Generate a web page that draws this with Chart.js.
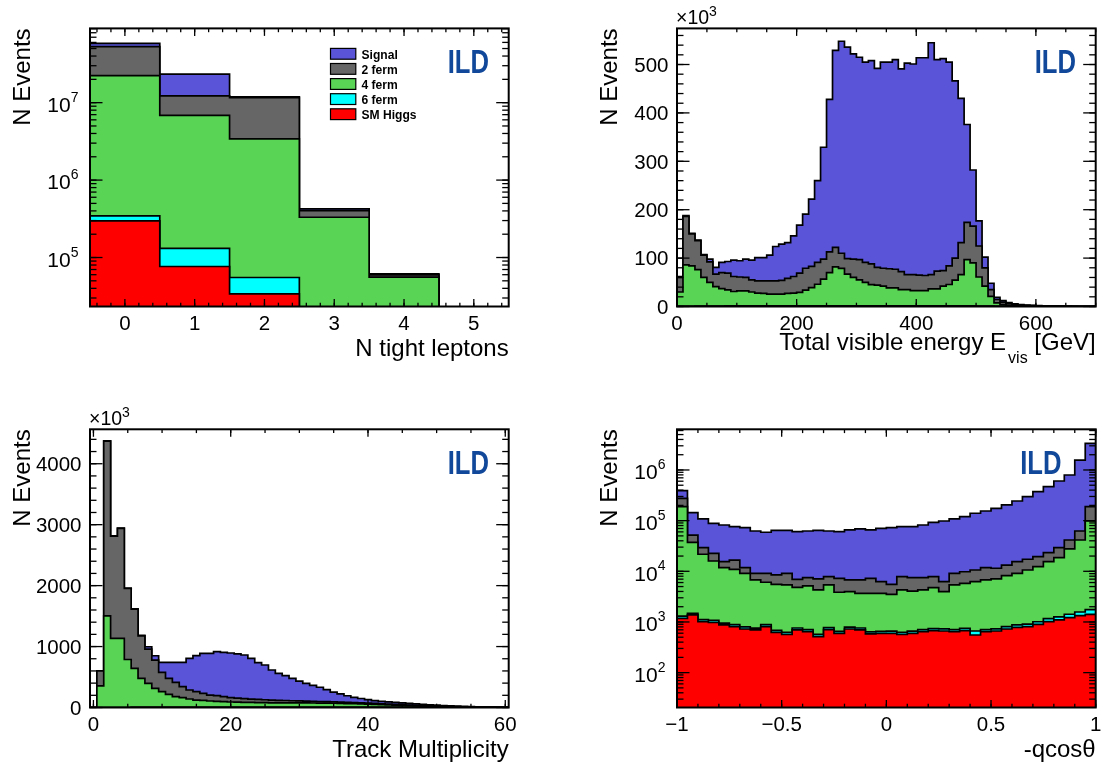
<!DOCTYPE html>
<html>
<head>
<meta charset="utf-8">
<title>ILD stacked histograms</title>
<script src="https://cdn.jsdelivr.net/npm/chart.js@4.4.1/dist/chart.umd.min.js"></script>
<style>
  html, body { margin: 0; padding: 0; background: #ffffff; }
  #page { position: relative; width: 1110px; height: 764px; overflow: hidden; background:#fff; }
  #page canvas { position: absolute; }
</style>
</head>
<body>
<div id="page">
  <canvas id="cLep"  width="555" height="382" style="left:0;top:0;width:555px;height:382px"></canvas>
  <canvas id="cEvis" width="555" height="382" style="left:555px;top:0;width:555px;height:382px"></canvas>
  <canvas id="cNtrk" width="555" height="382" style="left:0;top:382px;width:555px;height:382px"></canvas>
  <canvas id="cCos"  width="555" height="382" style="left:555px;top:382px;width:555px;height:382px"></canvas>
</div>
<script>
// ---------------- series (stack order bottom -> top) ----------------
const seriesNames  = ['SM Higgs', '6 ferm', '4 ferm', '2 ferm', 'Signal'];
const legendOrder  = ['Signal', '2 ferm', '4 ferm', '6 ferm', 'SM Higgs'];
const seriesColors = ['#FF0000', '#00FFFF', '#59D454', '#666666', '#5954D8'];

// ---------------- panel 1: N tight leptons (bins -0.5..5.5, events) ----------------
const lepMin = -0.5, lepMax = 5.5;
const lepHiggs  = [2.97e5, 7.66e4, 3.4e4, 1, 1, 1];
const lep6f     = [4.8e4, 5.44e4, 2.12e4, 1, 1, 1];
const lep4f     = [2.1955e7, 6.739e6, 3.345e6, 3.31e5, 5.57e4, 1];
const lep2f     = [3.05e7, 5.33e6, 8.2e6, 7.3e4, 4.0e3, 1];
const lepSignal = [5.5e6, 1.12e7, 3.0e5, 2.1e4, 1.8e3, 1];
const lepTicks  = [0, 1, 2, 3, 4, 5];
const lepTickLabels = ['0', '1', '2', '3', '4', '5'];
const lepYTicks = [1e5, 1e6, 1e7];
const lepYExps  = ['5', '6', '7'];

// ---------------- panel 2: visible energy (10 GeV bins, 0..700, x10^3 events) ----------------
const evisMin = 0, evisMax = 700;
const evisHiggs = [0.2,0.2,0.2,0.5,0.5,0.5,0.5,0.5,1,1, 1,1,1,1,1,1,1,1,1,1, 1,1,1,1,1,1,1,1,1,1,
  1,1,1,1,1,1,1,1,1,1, 1,1,1,1,1,1,1,1,1,1, 0.5,0.5,0.5,0.2,0.2,0.2,0,0,0,0, 0,0,0,0,0,0,0,0,0,0];
const evis6f = [0.1,0.1,0.1,0.3,0.3,0.3,0.3,0.3,0.3,0.3, 0.3,0.3,0.3,0.3,0.3,0.3,0.3,0.3,0.3,0.3,
  0.3,0.3,0.3,0.3,0.3,0.3,0.3,0.3,0.3,0.3, 0.3,0.3,0.3,0.3,0.3,0.3,0.3,0.3,0.3,0.3,
  0.3,0.3,0.3,0.3,0.3,0.3,0.3,0.3,0.3,0.3, 0.3,0.3,0.3,0.1,0.1,0.1,0.1,0,0,0, 0,0,0,0,0,0,0,0,0,0];
const evis4f = [29.7,85.7,83.7,75.2,59.2,49.2,40.2,36.2,33.2,29.7,
  31.1,31.1,28.7,26.3,25.7,24.2,24.2,24.2,25.7,26.3,
  27.7,32.7,37.7,44.7,55.2,68.7,80.7,77.3,65.7,58.7,
  53.7,48.7,43.7,42.7,40.7,37.3,37.3,33.7,33.7,31.7,
  31.7,31.7,35.2,35.2,40.7,44.2,53.2,64.7,95.7,88.7,
  60.2,41.2,20.2,7.3,3.7,2.2,1.4,1,0.7,0.5,
  0.4,0.3,0.25,0.2,0.15,0.1,0.1,0.05,0.05,0.03];
const evis2f = [30,100,66,60,46,42,26,33,34.5,31,
  28.6,27.6,25,25.4,26,27.5,27.5,28.5,31,34.4,
  40,45,44,45,41.5,43,40,31.4,32,38,
  42,41,43,37,37,39.4,38.4,37,31,33,
  32,31,29.5,36.5,32,38.5,45.5,66,77,76,
  64,38,14,6.9,5,3.5,2.5,2,1.5,1.3,
  1.1,0.9,0.75,0.6,0.55,0.4,0.3,0.25,0.15,0.12];
const evisSignal = [2,2,1,1,1,6,14,21,24,34,
  33.5,38,41,48,48,53,71,75,74,84,
  99,112,139,169,231,315,407,438,437,424,
  418,414,420,411,426,427,433,419,437,435,
  449,450,479,437,438,421,366,298,202,116,
  52,22,13,4.5,3,2,1.5,1,0.8,0.7,
  0.5,0.4,0.3,0.3,0.2,0.2,0.1,0.1,0.1,0.05];
const evisTicks = [0, 200, 400, 600];
const evisTickLabels = ['0', '200', '400', '600'];
const evisYTicks = [0, 100, 200, 300, 400, 500];
const evisYTickLabels = ['0', '100', '200', '300', '400', '500'];

// ---------------- panel 3: track multiplicity (bins -0.5..60.5, x10^3 events) ----------------
const ntrkMin = -0.5, ntrkMax = 60.5;
const ntrkHiggs = [0,0,0,0,0,0,0.5,0.5,0.5,0.5, 2,2,2,2,2,2,2,2,2,2, 2,2,2,2,2,2,2,2,2,2,
  2,2,2,2,2,2,2,2,2,2, 2,1,1,1,1,1,1,1,1,1, 1,0.3,0.3,0.3,0.3,0.3,0.3,0.3,0.3,0.3, 0.3];
const ntrk6f = [0,0,0,0,0,0,0,0,0.5,0.5, 0.5,0.5,0.5,0.5,0.5,0.5,0.5,0.5,0.5,0.5,
  0.5,0.5,0.5,0.5,0.5,0.5,0.5,0.5,0.5,0.5, 0.5,0.5,0.5,0.5,0.5,0.5,0.5,0.5,0.5,0.5,
  0.5,0.5,0.5,0.5,0.5,0.5,0.2,0.2,0.2,0.2, 0.2,0.2,0.2,0.2,0.2,0.2,0.2,0.2,0.2,0.2, 0.2];
const ntrk4f = [0,356,1505,1133,1133,788,640,476,394,312,
  257,213,175,159,137,120,115,104,98,93,
  88,85,82,80,78,76,75,74,73,73,
  72,72,71,70,69,67,65,62,59,56,
  53,49,45,41,37,33,29,26,23,20,
  17,15,13,11,9,8,6,5,4,3, 2];
const ntrk2f = [0,246,2867,1680,1805,1165,974,700,564,465,
  318,263,235,180,148,137,115,98,94,82,
  72,65,60,55,52,49,45,42,39,35,
  33,30,28,26,24,23,21,20,19,18,
  17,16,15,14,13,12,11,9,8,7,
  6,5,4,3,3,2,2,1,1,1, 1];
const ntrkSignal = [0,0,2,3,4,5,6,8,38,71,
  164,263,329,400,519,591,656,684,722,728,
  732,726,717,669,603,570,493,442,408,368,
  325,293,261,234,197,160,134,108,87,71,
  58,47,40,35,32,30,26,23,19,17,
  15,12,10,8,7,6,4,3,1,0.5, 0.3];
const ntrkTicks = [0, 20, 40, 60];
const ntrkTickLabels = ['0', '20', '40', '60'];
const ntrkYTicks = [0, 1000, 2000, 3000, 4000];
const ntrkYTickLabels = ['0', '1000', '2000', '3000', '4000'];

// ---------------- panel 4: -q cos(theta) (0.05 bins, -1..1, events) ----------------
const cosMin = -1, cosMax = 1;
const cosHiggs = [1180,1374,1017,985,873,809,727,695,809,625,
  571,695,644,514,706,597,727,695,580,597,
  597,571,597,644,675,663,644,675,553,644,
  663,727,785,809,900,1017,1096,1219,1333,1416];
const cos6f = [120,110,100,95,80,75,70,60,75,60,
  55,65,60,55,65,55,65,65,55,55,
  60,55,60,65,65,65,65,70,110,65,
  65,80,90,95,110,150,170,200,240,330];
const cos4f = [187700,35800,20600,14900,10850,10000,8300,6000,5190,4815,
  4775,4070,4436,3711,4629,3208,3178,2920,3045,3028,
  2863,3654,3413,3571,4030,3242,4691,5055,5587,6041,
  6332,7393,8225,9696,11390,14333,17334,26181,39927,96654];
const cos2f = [87000,14700,7600,6700,3700,5800,2700,2350,3030,3000,
  3700,2120,2360,2780,2450,3420,2780,3070,3600,2570,
  1980,3570,3430,3220,3080,2280,3700,4000,4350,5050,
  4440,5100,6400,6700,7100,7800,10700,13900,21000,90600];
const cosSignal = [114000,92000,78700,65900,66500,59300,60900,53400,49900,55900,
  55300,53750,55000,57340,54650,53420,58750,61850,58220,64350,
  67200,68150,68500,74500,84850,92150,98900,110200,129400,143200,
  163500,190700,228500,280700,354500,445700,576700,754500,1507500,3171000];
const cosTicks = [-1, -0.5, 0, 0.5, 1];
const cosTickLabels = ['\u22121', '\u22120.5', '0', '0.5', '1'];
const cosYTicks = [1e2, 1e3, 1e4, 1e5, 1e6];
const cosYExps  = ['2', '3', '4', '5', '6'];

// ---------------- helpers ----------------
const FONT = "'Liberation Sans', Arial, Helvetica, sans-serif";
const LABEL_PX = 20.5;

function binEdges(lo, hi, n) {
  const w = (hi - lo) / n;
  return Array.from({ length: n + 1 }, (_, i) => lo + i * w);
}
function stepPoints(edges, vals) {
  return edges.map((e, i) => ({ x: e, y: vals[Math.min(i, vals.length - 1)] }));
}
function tickRange(a, b, s) {
  const out = [];
  for (let i = 0; a + i * s <= b + 1e-9; i++) out.push(+(a + i * s).toFixed(6));
  return out;
}
function logMinor(lo, hi) {
  const out = [];
  for (let e = Math.floor(Math.log10(lo)); e <= Math.ceil(Math.log10(hi)); e++)
    for (let m = 1; m < 10; m++) { const v = m * Math.pow(10, e); if (v >= lo && v <= hi) out.push(v); }
  return out;
}

// ROOT-like frame, inside ticks, labels, titles, legend, logo
const rootAxes = {
  id: 'rootAxes',
  afterDatasetsDraw(chart, args, o) {
    const ctx = chart.ctx, a = chart.chartArea, xs = chart.scales.x, ys = chart.scales.y;
    ctx.save();
    ctx.strokeStyle = '#000'; ctx.fillStyle = '#000'; ctx.lineWidth = 1.3;
    const seg = (x1, y1, x2, y2) => { ctx.beginPath(); ctx.moveTo(x1, y1); ctx.lineTo(x2, y2); ctx.stroke(); };
    const xTick = (v, len) => { const p = xs.getPixelForValue(v); seg(p, a.bottom, p, a.bottom - len); seg(p, a.top, p, a.top + len); };
    const yTick = (v, len) => { const p = ys.getPixelForValue(v); seg(a.left, p, a.left + len, p); seg(a.right, p, a.right - len, p); };
    o.xMinor.forEach(v => xTick(v, 3.8));
    o.xMajor.forEach(v => xTick(v, 7.5));
    o.yMinor.forEach(v => yTick(v, 6.5));
    o.yMajor.forEach(v => yTick(v, 12.5));
    ctx.lineWidth = 2;
    ctx.strokeRect(a.left, a.top, a.right - a.left, a.bottom - a.top);

    // x tick labels
    ctx.font = `${LABEL_PX}px ${FONT}`; ctx.textAlign = 'center'; ctx.textBaseline = 'alphabetic';
    o.xMajor.forEach((v, i) => ctx.fillText(o.xLabels[i], xs.getPixelForValue(v), a.bottom + 23.8));
    // y tick labels
    o.yMajor.forEach((v, i) => {
      const p = ys.getPixelForValue(v);
      if (o.yLog) {
        ctx.font = `14px ${FONT}`;
        const sw = ctx.measureText(o.yLabels[i]).width;
        ctx.textAlign = 'left';
        ctx.fillText(o.yLabels[i], a.left - 11.5 - sw, p - 1);
        ctx.font = `${LABEL_PX + 0.5}px ${FONT}`; ctx.textAlign = 'right';
        ctx.fillText('10', a.left - 11.5 - sw, p + 9.2);
      } else {
        ctx.font = `${LABEL_PX}px ${FONT}`; ctx.textAlign = 'right';
        ctx.fillText(o.yLabels[i], a.left - 8.5, p + 7.3);
      }
    });
    // exponent label
    if (o.yExp) {
      ctx.font = `19.5px ${FONT}`; ctx.textAlign = 'left';
      const t = '\u00D710';
      const w = ctx.measureText(t).width;
      ctx.fillText(t, a.left - 1, a.top - 4);
      ctx.font = `14px ${FONT}`;
      ctx.fillText(o.yExp, a.left - 1 + w, a.top - 12.5);
    }
    // x title (parts, right aligned)
    const main = `24px ${FONT}`, sub = `16px ${FONT}`;
    let tw = 0;
    o.xTitle.forEach(pt => { ctx.font = pt.sub ? sub : main; tw += ctx.measureText(pt.t).width + (pt.sub ? 2 : 0); });
    let cx = a.right - tw;
    const by = a.bottom + o.xTitleDy;
    ctx.textAlign = 'left';
    o.xTitle.forEach(pt => {
      ctx.font = pt.sub ? sub : main;
      if (pt.sub) cx += 2;
      ctx.fillText(pt.t, cx, pt.sub ? by + 12.5 : by);
      cx += ctx.measureText(pt.t).width;
    });
    // y title
    ctx.save();
    ctx.translate(a.left - 60, a.top); ctx.rotate(-Math.PI / 2);
    ctx.font = main; ctx.textAlign = 'right';
    ctx.fillText(o.yTitle, 0, 0);
    ctx.restore();
    // legend
    if (o.legend) {
      legendOrder.forEach((name, i) => {
        const bx = a.left + 240.5, byy = a.top + 20 + i * 15.1;
        ctx.fillStyle = seriesColors[seriesNames.indexOf(name)];
        ctx.fillRect(bx, byy, 25.3, 10.8);
        ctx.lineWidth = 1.2; ctx.strokeStyle = '#000';
        ctx.strokeRect(bx, byy, 25.3, 10.8);
        ctx.save();
        ctx.translate(bx + 31, byy + 10.2); ctx.scale(0.93, 1.05);
        ctx.font = `bold 13px ${FONT}`; ctx.textAlign = 'left'; ctx.textBaseline = 'alphabetic';
        ctx.fillStyle = '#000';
        ctx.fillText(name, 0, 0);
        ctx.restore();
      });
    }
    // ILD logo
    const lx = a.right - 61 + (o.logoDx || 0), ly = a.top + 21;
    ctx.save();
    ctx.translate(lx, ly + 24); ctx.scale(0.765, 1);
    ctx.font = `bold 33.5px ${FONT}`; ctx.fillStyle = '#11489A'; ctx.textAlign = 'left';
    ctx.fillText('ILD', 0, 0);
    ctx.restore();
    ctx.restore();
  }
};

function makePanel(id, edges, series, xMin, xMax, yType, yMin, yMax, pad, deco) {
  const datasets = series.map((vals, i) => ({
    label: seriesNames[i],
    data: stepPoints(edges, vals),
    stepped: 'before',
    fill: 'start',
    backgroundColor: seriesColors[i],
    borderColor: '#000000',
    borderWidth: 1.7,
    pointRadius: 0,
    pointHoverRadius: 0,
    tension: 0
  }));
  return new Chart(document.getElementById(id), {
    type: 'line',
    data: { datasets },
    options: {
      responsive: false,
      animation: false,
      devicePixelRatio: 1,
      events: [],
      layout: { padding: pad },
      scales: {
        x: { type: 'linear', display: false, min: xMin, max: xMax },
        y: { type: yType, display: false, min: yMin, max: yMax, stacked: true }
      },
      plugins: { legend: { display: false }, tooltip: { enabled: false }, rootAxes: deco }
    },
    plugins: [rootAxes]
  });
}

// ---------------- build the four panels ----------------
makePanel('cLep', binEdges(lepMin, lepMax, lepSignal.length),
  [lepHiggs, lep6f, lep4f, lep2f, lepSignal], lepMin, lepMax, 'logarithmic', 23300, 9.1e7,
  { left: 90, top: 28.4, right: 46.3, bottom: 75.5 },
  { xMajor: lepTicks, xLabels: lepTickLabels, xMinor: tickRange(-0.4, 5.4, 0.2),
    yLog: true, yMajor: lepYTicks, yLabels: lepYExps, yMinor: logMinor(23300, 9.1e7),
    xTitle: [{ t: 'N tight leptons' }], xTitleDy: 49.5, yTitle: 'N Events', legend: true });

makePanel('cEvis', binEdges(evisMin, evisMax, evisSignal.length),
  [evisHiggs, evis6f, evis4f, evis2f, evisSignal], evisMin, evisMax, 'linear', 0, 574.6,
  { left: 122, top: 28.4, right: 14.3, bottom: 75.5 },
  { xMajor: evisTicks, xLabels: evisTickLabels, xMinor: tickRange(0, 700, 50),
    yLog: false, yMajor: evisYTicks, yLabels: evisYTickLabels, yMinor: tickRange(0, 560, 20),
    yExp: '3', xTitle: [{ t: 'Total visible energy E' }, { t: 'vis', sub: true }, { t: ' [GeV]' }],
    xTitleDy: 43.5, yTitle: 'N Events' });

makePanel('cNtrk', binEdges(ntrkMin, ntrkMax, ntrkSignal.length),
  [ntrkHiggs, ntrk6f, ntrk4f, ntrk2f, ntrkSignal], ntrkMin, ntrkMax, 'linear', 0, 4565,
  { left: 90, top: 47.3, right: 46.3, bottom: 56.5 },
  { xMajor: ntrkTicks, xLabels: ntrkTickLabels, xMinor: tickRange(0, 60, 5),
    yLog: false, yMajor: ntrkYTicks, yLabels: ntrkYTickLabels, yMinor: tickRange(0, 4400, 200),
    yExp: '3', xTitle: [{ t: 'Track Multiplicity' }], xTitleDy: 49, yTitle: 'N Events' });

makePanel('cCos', binEdges(cosMin, cosMax, cosSignal.length),
  [cosHiggs, cos6f, cos4f, cos2f, cosSignal], cosMin, cosMax, 'logarithmic', 20.5, 6.35e6,
  { left: 122, top: 47.3, right: 14.3, bottom: 56.5 },
  { xMajor: cosTicks, xLabels: cosTickLabels, xMinor: tickRange(-1, 1, 0.1),
    yLog: true, yMajor: cosYTicks, yLabels: cosYExps, yMinor: logMinor(20.5, 6.35e6),
    xTitle: [{ t: '-qcos\u03B8' }], xTitleDy: 49, yTitle: 'N Events', logoDx: -14.5 });
</script>
</body>
</html>
